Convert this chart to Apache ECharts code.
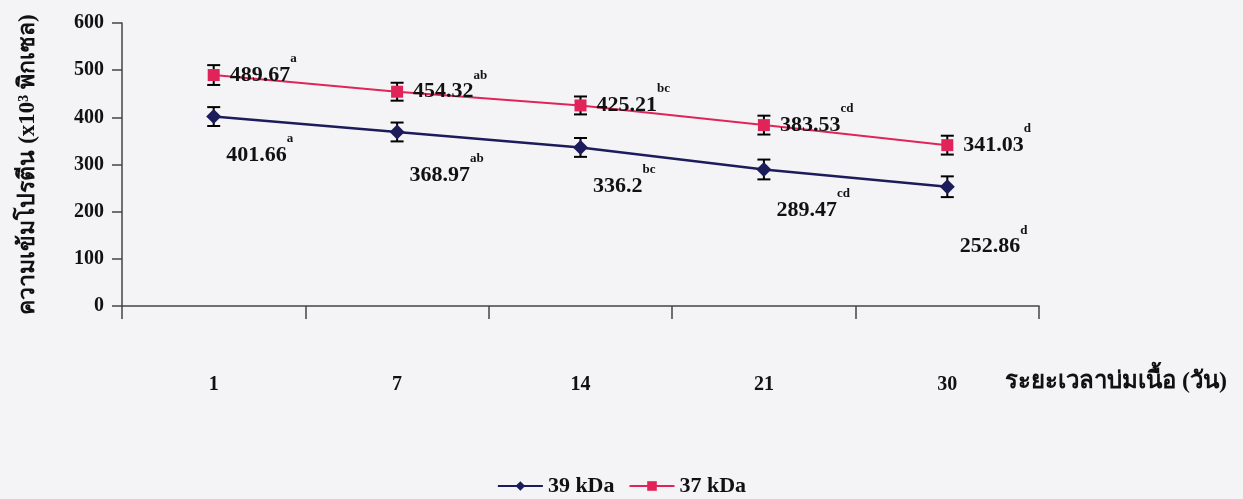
<!DOCTYPE html>
<html><head><meta charset="utf-8">
<script src="https://cdn.jsdelivr.net/npm/echarts@6/dist/echarts.min.js"></script>
<style>html,body{margin:0;padding:0;background:#f4f4f6}#c{width:1243px;height:499px}</style>
</head><body><div id="c"></div>
<script>
const categories = ['1', '7', '14', '21', '30'];
const series39 = [401.66, 368.97, 336.2, 289.47, 252.86];
const series37 = [489.67, 454.32, 425.21, 383.53, 341.03];
const err39 = [20, 20, 20, 21, 22];
const err37 = [21, 19, 19, 20, 20];
const sup39 = ['a', 'ab', 'bc', 'cd', 'd'];
const sup37 = ['a', 'ab', 'bc', 'cd', 'd'];
const yMin = 0, yMax = 600, yStep = 100;

const FONT = "'Liberation Serif', 'Times New Roman', serif";
const BLUE = '#1c1c5a', RED = '#e0245a';
const blueDy = [39, 43, 39, 41, 60];

const richLbl = {
  v: {fontFamily: FONT, fontWeight: 'bold', fontSize: 22, color: '#111', lineHeight: 46},
  s: {fontFamily: FONT, fontWeight: 'bold', fontSize: 13, color: '#111', lineHeight: 10, verticalAlign: 'top'}
};

function errSeries(vals, errs) {
  return {
    type: 'custom', silent: true, z: 3,
    data: vals.map((v, i) => [i, v - errs[i], v + errs[i]]),
    encode: {x: 0, y: [1, 2]},
    renderItem: function (params, api) {
      const x = api.value(0);
      const lo = api.coord([x, api.value(1)]);
      const hi = api.coord([x, api.value(2)]);
      const w = 6.5;
      const st = {stroke: '#000', lineWidth: 2};
      return {type: 'group', children: [
        {type: 'line', shape: {x1: lo[0], y1: lo[1], x2: hi[0], y2: hi[1]}, style: st},
        {type: 'line', shape: {x1: lo[0] - w, y1: lo[1], x2: lo[0] + w, y2: lo[1]}, style: st},
        {type: 'line', shape: {x1: hi[0] - w, y1: hi[1], x2: hi[0] + w, y2: hi[1]}, style: st}
      ]};
    }
  };
}

const chart = echarts.init(document.getElementById('c'));
chart.setOption({
  backgroundColor: '#f4f4f6',
  animation: false,
  grid: {left: 122, right: 204, top: 23, bottom: 193},
  legend: {
    bottom: -3, left: 'center', itemWidth: 45, itemHeight: 12, itemGap: 14,
    textStyle: {fontFamily: FONT, fontWeight: 'bold', fontSize: 22, color: '#111'},
    data: ['39 kDa', '37 kDa']
  },
  xAxis: {
    type: 'category', data: categories, boundaryGap: true,
    axisLine: {lineStyle: {color: '#444', width: 1.5}},
    axisTick: {show: true, interval: 0, length: 13, lineStyle: {color: '#444', width: 1.5}},
    axisLabel: {margin: 69, fontFamily: FONT, fontWeight: 'bold', fontSize: 20, color: '#111'},
    name: 'ระยะเวลาบ่มเนื้อ (วัน)', nameLocation: 'end', nameGap: -34,
    nameTextStyle: {fontFamily: FONT, fontWeight: 'bold', fontSize: 24, color: '#111',
      verticalAlign: 'top', align: 'left', padding: [64, 0, 0, 0]}
  },
  yAxis: {
    type: 'value', min: yMin, max: yMax, interval: yStep,
    axisLine: {show: true, lineStyle: {color: '#444', width: 1.5}},
    axisTick: {show: true, length: 10, lineStyle: {color: '#444', width: 1.5}},
    splitLine: {show: false},
    axisLabel: {margin: 18, fontFamily: FONT, fontWeight: 'bold', fontSize: 20, color: '#111'},
    name: 'ความเข้มโปรตีน (x10³ พิกเซล)', nameLocation: 'middle', nameGap: 82,
    nameTextStyle: {fontFamily: FONT, fontWeight: 'bold', fontSize: 23, color: '#111'}
  },
  series: [
    errSeries(series39, err39),
    errSeries(series37, err37),
    {
      name: '39 kDa', type: 'line', z: 4,
      symbol: 'diamond', symbolSize: 15,
      lineStyle: {color: BLUE, width: 2.5}, itemStyle: {color: BLUE},
      data: series39.map((v, i) => ({value: v, label: {offset: [0, blueDy[i]]}})),
      label: {show: true, position: 'right', distance: 5,
        formatter: p => '{v|' + p.value + '}{s|' + sup39[p.dataIndex] + '}', rich: richLbl}
    },
    {
      name: '37 kDa', type: 'line', z: 4,
      symbol: 'rect', symbolSize: 12,
      lineStyle: {color: RED, width: 2}, itemStyle: {color: RED},
      data: series37,
      label: {show: true, position: 'right', distance: 10,
        formatter: p => '{v|' + p.value + '}{s|' + sup37[p.dataIndex] + '}', rich: richLbl}
    }
  ]
});
</script></body></html>
